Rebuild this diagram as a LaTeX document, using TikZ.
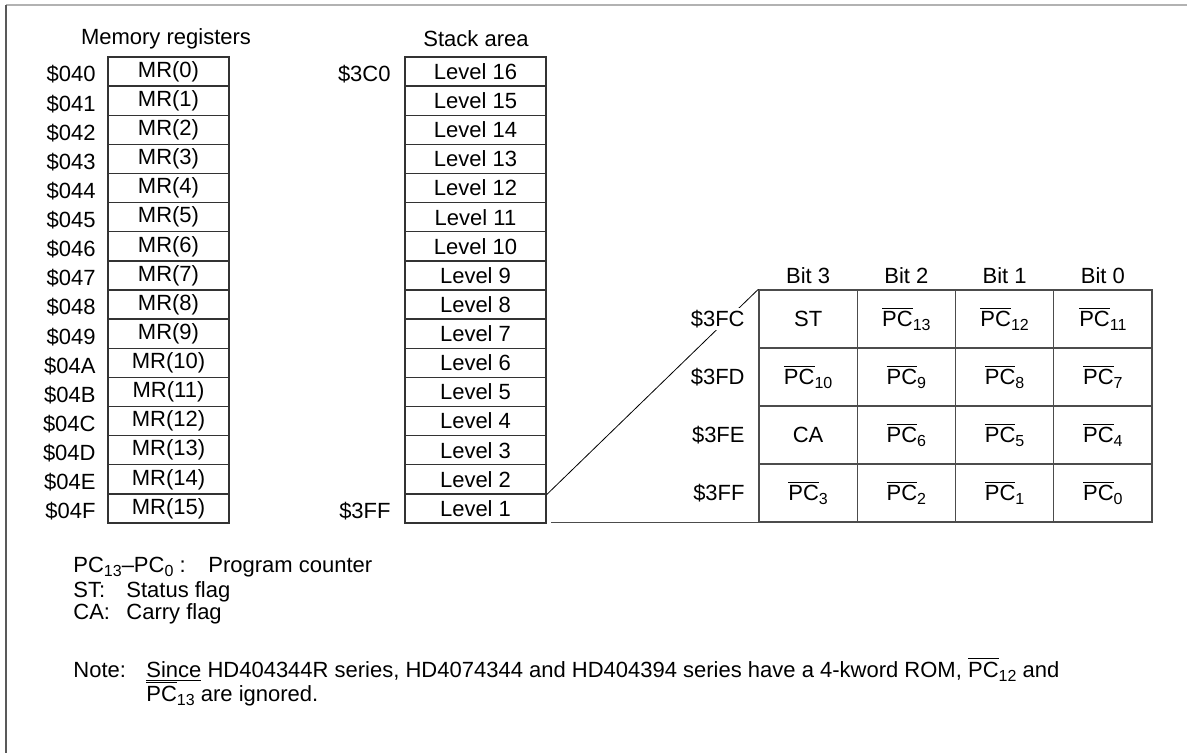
\documentclass[tikz,border=0pt]{standalone}
\usepackage{fontspec}
\setmainfont{Liberation Sans}
\usetikzlibrary{positioning}

% lowered small index and overlined PC
\newcommand\lo[1]{\raisebox{-2.2pt}{\fontsize{8}{9}\selectfont #1}}
\newcommand\npc[1]{$\overline{\mbox{PC}}$\lo{#1}}

\begin{document}
\begin{tikzpicture}
[x=0.5pt,y=-0.5pt,font=\fontsize{11}{13}\selectfont,
 every node/.style={inner sep=0pt},
 mrcell/.style={draw=black!80,line width=0.7pt,minimum width=60.5pt,minimum height=14.5625pt},
 lvcell/.style={draw=black!80,line width=0.7pt,minimum width=70.5pt,minimum height=14.5625pt},
 bitcell/.style={draw=black!70,line width=0.7pt,minimum width=49.125pt,minimum height=29pt},
 addr/.style={anchor=east,fill=white,inner sep=1pt},
 legend/.style={anchor=base west}]
  \useasboundingbox (0,0) rectangle (1187,753);
  \draw[black!30,line width=1pt] (6,5) -- (1187,5);
  \draw[black!65,line width=1pt] (6,5) -- (6,753);

  \node (mrtitle) at (166,39) {Memory registers};
  \node (sttitle) at (476,39) {Stack area};

  \foreach \i/\h in {0/0,1/1,2/2,3/3,4/4,5/5,6/6,7/7,8/8,9/9,10/A,11/B,12/C,13/D,14/E,15/F}{
    \node[mrcell] (mr\i) at (168.5,{57+29.125*(\i+0.5)}) {MR(\i)};
    \node[addr] (ma\i) at (98,{60+29.125*(\i+0.5)}) {\$04\h};
  }

  \foreach \i [evaluate=\i as \lv using int(16-\i)] in {0,...,15}
    \node[lvcell] (lv\lv) at (475.5,{57+29.125*(\i+0.5)}) {Level \lv};
  \node[addr] (s3c0) at (393,{60+29.125*0.5}) {\$3C0};
  \node[addr] (s3ff) at (393,{60+29.125*15.5}) {\$3FF};

  \foreach \r/\c/\t in {0/0/ST,0/1/\npc{13},0/2/\npc{12},0/3/\npc{11},
                        1/0/\npc{10},1/1/\npc{9},1/2/\npc{8},1/3/\npc{7},
                        2/0/CA,2/1/\npc{6},2/2/\npc{5},2/3/\npc{4},
                        3/0/\npc{3},3/1/\npc{2},3/2/\npc{1},3/3/\npc{0}}
    \node[bitcell] (c\r\c) at ({759+98.25*(\c+0.5)},{290+58*(\r+0.5)}) {\t};

  \foreach \c/\b in {0/3,1/2,2/1,3/0}
    \node (bit\b) at ({759+98.25*(\c+0.5)},276) {Bit \b};

  \draw[line width=0.4pt] (lv2.south east) -- (c00.north west);
  \coordinate (bl) at (551,522);
  \draw[black!70,line width=0.7pt] (bl |- c30.south) -- (c30.south west);

  \foreach \r/\a in {0/3FC,1/3FD,2/3FE,3/3FF}
    \node[addr] (a\a) at (747,{290+58*(\r+0.5)}) {\$\a};

  \node[legend] (lgpc) at (73,572) {PC\lo{13}--PC\lo{0} :};
  \node[legend] (lgprog) at (208,572) {Program counter};
  \node[legend] (lgst) at (73,597) {ST:};
  \node[legend] (lgstat) at (126,597) {Status flag};
  \node[legend] (lgca) at (73,619) {CA:};
  \node[legend] (lgcarry) at (126,619) {Carry flag};
  \node[legend] (note) at (73,677) {Note:};
  \node[legend] (note1) at (146,677) {\underline{Since} HD404344R series, HD4074344 and HD404394 series have a 4-kword ROM, \npc{12} and};
  \node[legend] (note2) at (146,701) {\npc{13} are ignored.};
\end{tikzpicture}
\end{document}
